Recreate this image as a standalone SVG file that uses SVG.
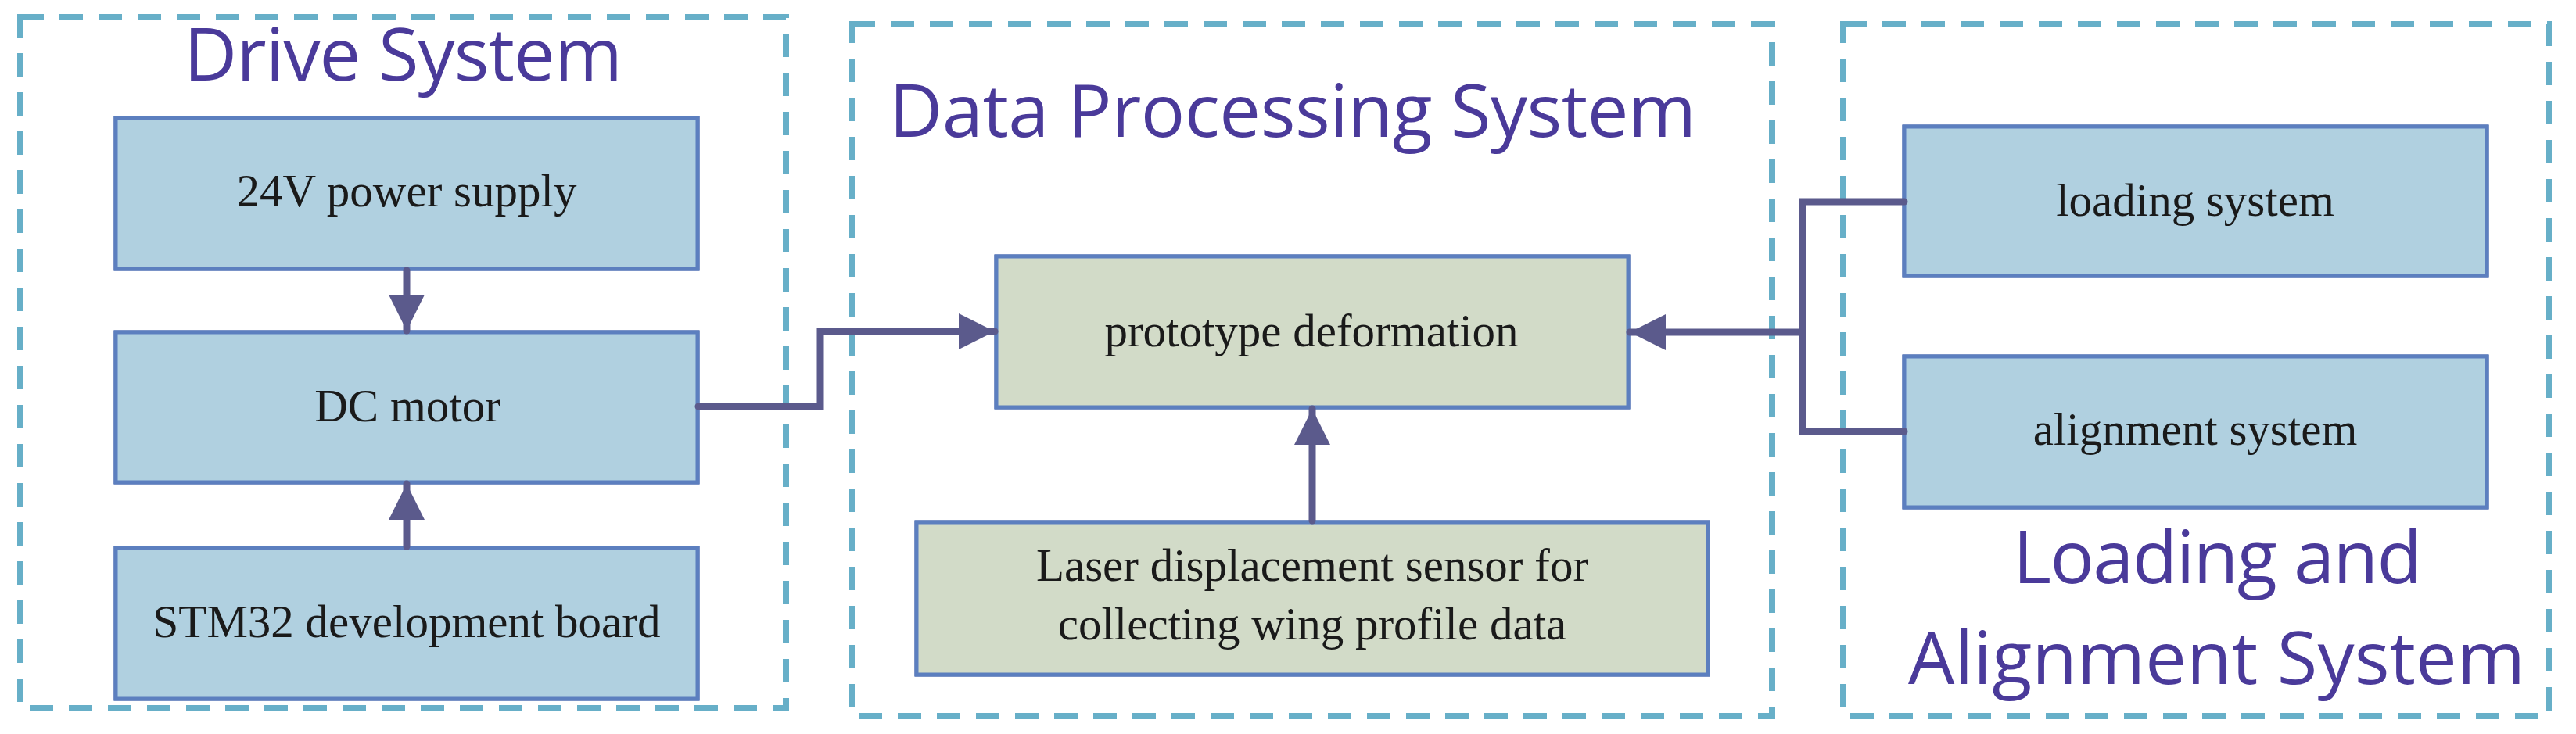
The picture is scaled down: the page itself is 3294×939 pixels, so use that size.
<svg xmlns="http://www.w3.org/2000/svg" width="3294" height="939" viewBox="0 0 3294 939">
<style>
.frame{fill:none;stroke:#67AFC8;stroke-width:8;stroke-dasharray:30 20}
.title{font-family:"Open Sans","Liberation Sans",sans-serif;font-size:94px;fill:#4A3A9A}
.blue{fill:#B0D0E0;stroke:#5B7FBF;stroke-width:5}
.green{fill:#D2DBC8;stroke:#5B7FBF;stroke-width:5}
.lbl{font-family:"Liberation Serif",serif;font-size:59px;fill:#1a1a1a;text-anchor:middle}
.con{fill:none;stroke:#5B5A8C;stroke-width:9;stroke-linecap:round;stroke-linejoin:miter}
</style>
<defs>
<filter id="sh" x="-10%" y="-20%" width="120%" height="160%">
<feGaussianBlur in="SourceAlpha" stdDeviation="12"/>
<feOffset dy="22"/>
<feComponentTransfer><feFuncA type="linear" slope="0.12"/></feComponentTransfer>
<feFlood flood-color="#3050A0"/>
<feComposite operator="in" in2="SourceAlpha"/>
<feMerge><feMergeNode/><feMergeNode in="SourceGraphic"/></feMerge>
</filter>
<marker id="ah" viewBox="0 0 10 10" refX="10" refY="5" markerUnits="userSpaceOnUse" markerWidth="46" markerHeight="46" orient="auto">
<path d="M0,0 L10,5 L0,10 Z" fill="#5B5A8C"/>
</marker>
</defs>
<g id="frame-drive"><rect class="frame" x="26" y="22" width="979" height="884"/>
<text class="title" x="235" y="103" textLength="561">Drive System</text></g>
<g id="frame-data"><rect class="frame" x="1089" y="31" width="1177" height="885"/>
<text class="title" x="1137" y="175" textLength="1032">Data Processing System</text></g>
<g id="frame-load"><rect class="frame" x="2357" y="31" width="902" height="885"/>
<text class="title" x="2574" y="746" textLength="523">Loading and</text>
<text class="title" x="2440" y="875" textLength="789">Alignment System</text></g>
<g id="n-power"><rect class="blue" x="148" y="151" width="744" height="193" filter="url(#sh)"/><text class="lbl" x="520" y="264">24V power supply</text></g>
<g id="n-motor"><rect class="blue" x="148" y="425" width="744" height="192" filter="url(#sh)"/><text class="lbl" x="521" y="539">DC motor</text></g>
<g id="n-stm"><rect class="blue" x="148" y="701" width="744" height="193" filter="url(#sh)"/><text class="lbl" x="520" y="815">STM32 development board</text></g>
<g id="n-proto"><rect class="green" x="1274" y="328" width="808" height="193" filter="url(#sh)"/><text class="lbl" x="1677" y="443">prototype deformation</text></g>
<g id="n-laser"><rect class="green" x="1172" y="668" width="1012" height="195" filter="url(#sh)"/><text class="lbl" x="1678" y="743">Laser displacement sensor for</text><text class="lbl" x="1678" y="818">collecting wing profile data</text></g>
<g id="n-loading"><rect class="blue" x="2435" y="162" width="745" height="191" filter="url(#sh)"/><text class="lbl" x="2807" y="276">loading system</text></g>
<g id="n-align"><rect class="blue" x="2435" y="456" width="745" height="193" filter="url(#sh)"/><text class="lbl" x="2807" y="569">alignment system</text></g>
<g id="connectors">
<line class="con" x1="520" y1="346" x2="520" y2="423" marker-end="url(#ah)"/>
<line class="con" x1="520" y1="699" x2="520" y2="619" marker-end="url(#ah)"/>
<polyline class="con" points="893,520 1049,520 1049,424 1272,424" marker-end="url(#ah)"/>
<line class="con" x1="1678" y1="666" x2="1678" y2="523" marker-end="url(#ah)"/>
<line class="con" x1="2305" y1="425" x2="2084" y2="425" marker-end="url(#ah)"/>
<polyline class="con" points="2435,258 2305,258 2305,552 2435,552"/>
</g>
</svg>
